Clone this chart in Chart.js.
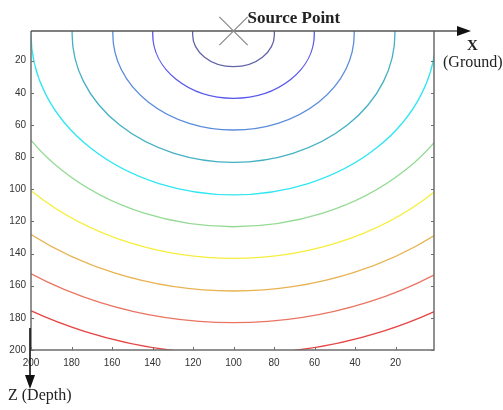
<!DOCTYPE html>
<html>
<head>
<meta charset="utf-8">
<script src="https://cdn.jsdelivr.net/npm/chart.js@4/dist/chart.umd.min.js"></script>
<style>
  body { margin: 0; background: #fff; }
  #wrap { width: 503px; height: 410px; }
</style>
</head>
<body>
<div id="wrap"><canvas id="c" width="503" height="410"></canvas></div>
<script>
// contour levels (distance from the source, same units as the axes)
const contourRadii = [20.2, 39.9, 59.6, 79.7, 100, 119.8, 139.5, 159.8, 179.5, 199];
const contourColors = ['#6262aa', '#5858ee', '#5a8cdc', '#44b0c4', '#2ee6f2',
                       '#94da94', '#f6ee3c', '#e8b250', '#ea7462', '#e84444'];
const contourCenter = [100, 3.5];   // x, z
const sourcePoint = [{ x: 100, y: 1.5 }];
const xTicks = [20, 40, 60, 80, 100, 120, 140, 160, 180, 200];
const zTicks = [20, 40, 60, 80, 100, 120, 140, 160, 180, 200];

const FRAME = '#6e6e6e';
const SERIF = '"Liberation Serif", "DejaVu Serif", serif';

// contours + frame + arrows + labels
const overlay = {
  id: 'overlay',
  beforeDatasetsDraw(chart) {
    const { ctx, chartArea: a, scales: { x, y } } = chart;
    const cx = x.getPixelForValue(contourCenter[0]);
    const cy = y.getPixelForValue(contourCenter[1]);
    ctx.save();
    ctx.beginPath();
    ctx.rect(a.left, a.top, a.right - a.left, a.bottom - a.top);
    ctx.clip();
    ctx.lineWidth = 1.3;
    contourRadii.forEach((r, i) => {
      const rx = Math.abs(x.getPixelForValue(contourCenter[0] + r) - cx);
      const ry = Math.abs(y.getPixelForValue(contourCenter[1] + r) - cy);
      ctx.strokeStyle = contourColors[i];
      ctx.beginPath();
      ctx.ellipse(cx, cy, rx, ry, 0, 0, Math.PI * 2);
      ctx.stroke();
    });
    ctx.restore();

    // frame (left, bottom, right) and inward ticks
    ctx.save();
    ctx.strokeStyle = FRAME;
    ctx.lineWidth = 1.5;
    ctx.beginPath();
    ctx.moveTo(a.left, a.top);
    ctx.lineTo(a.left, a.bottom);
    ctx.lineTo(a.right, a.bottom);
    ctx.lineTo(a.right, a.top);
    ctx.stroke();
    ctx.lineWidth = 1;
    ctx.beginPath();
    xTicks.forEach(v => {
      const px = Math.round(x.getPixelForValue(v)) + 0.5;
      ctx.moveTo(px, a.bottom);
      ctx.lineTo(px, a.bottom - 3);
    });
    zTicks.forEach(v => {
      const py = Math.round(y.getPixelForValue(v)) + 0.5;
      ctx.moveTo(a.left, py);
      ctx.lineTo(a.left + 3, py);
      ctx.moveTo(a.right, py);
      ctx.lineTo(a.right - 3, py);
    });
    ctx.stroke();

    // ground line with arrow
    ctx.strokeStyle = '#555';
    ctx.lineWidth = 1.5;
    ctx.beginPath();
    ctx.moveTo(a.left, a.top);
    ctx.lineTo(460, a.top);
    ctx.stroke();
    ctx.fillStyle = '#111';
    ctx.beginPath();
    ctx.moveTo(471, a.top);
    ctx.lineTo(457, a.top - 5);
    ctx.lineTo(457, a.top + 5);
    ctx.closePath();
    ctx.fill();

    // depth arrow
    ctx.strokeStyle = '#111';
    ctx.lineWidth = 1.6;
    ctx.beginPath();
    ctx.moveTo(30, 328);
    ctx.lineTo(30, 378);
    ctx.stroke();
    ctx.beginPath();
    ctx.moveTo(30, 389);
    ctx.lineTo(25, 375);
    ctx.lineTo(35, 375);
    ctx.closePath();
    ctx.fill();

    // text labels
    const sx = x.getPixelForValue(sourcePoint[0].x);
    ctx.fillStyle = '#222';
    ctx.textBaseline = 'alphabetic';
    ctx.textAlign = 'left';
    ctx.font = 'bold 17px ' + SERIF;
    ctx.fillText('Source Point', sx + 14, 23);
    ctx.font = 'bold 15px ' + SERIF;
    ctx.fillText('X', 467, 50);
    ctx.font = '16px ' + SERIF;
    ctx.fillText('(Ground)', 443, 67);
    ctx.fillText('Z (Depth)', 8, 400);
    ctx.restore();
  }
};

new Chart(document.getElementById('c'), {
  type: 'scatter',
  data: {
    datasets: [{
      data: sourcePoint,
      pointStyle: 'crossRot',
      pointRadius: 20,
      borderColor: '#888',
      borderWidth: 1.2,
      clip: false
    }]
  },
  options: {
    responsive: false,
    animation: false,
    events: [],
    layout: { padding: { top: 31, right: 69, bottom: 0, left: 0 } },
    plugins: { legend: { display: false }, tooltip: { enabled: false } },
    scales: {
      x: {
        type: 'linear',
        reverse: true,
        min: 1,
        max: 200,
        afterBuildTicks: s => { s.ticks = xTicks.map(v => ({ value: v })); },
        afterFit: s => { s.height = 60; },
        grid: { display: false, drawTicks: false },
        border: { display: false },
        ticks: {
          autoSkip: false,
          maxRotation: 0,
          padding: 7,
          color: '#333',
          font: { family: '"Liberation Sans", Arial, sans-serif', size: 10 }
        }
      },
      y: {
        type: 'linear',
        reverse: true,
        min: 1.5,
        max: 200,
        afterBuildTicks: s => { s.ticks = zTicks.map(v => ({ value: v })); },
        afterFit: s => { s.width = 31; },
        grid: { display: false, drawTicks: false },
        border: { display: false },
        ticks: {
          autoSkip: false,
          padding: 5,
          color: '#333',
          font: { family: '"Liberation Sans", Arial, sans-serif', size: 10 }
        }
      }
    }
  },
  plugins: [overlay]
});
</script>
</body>
</html>
